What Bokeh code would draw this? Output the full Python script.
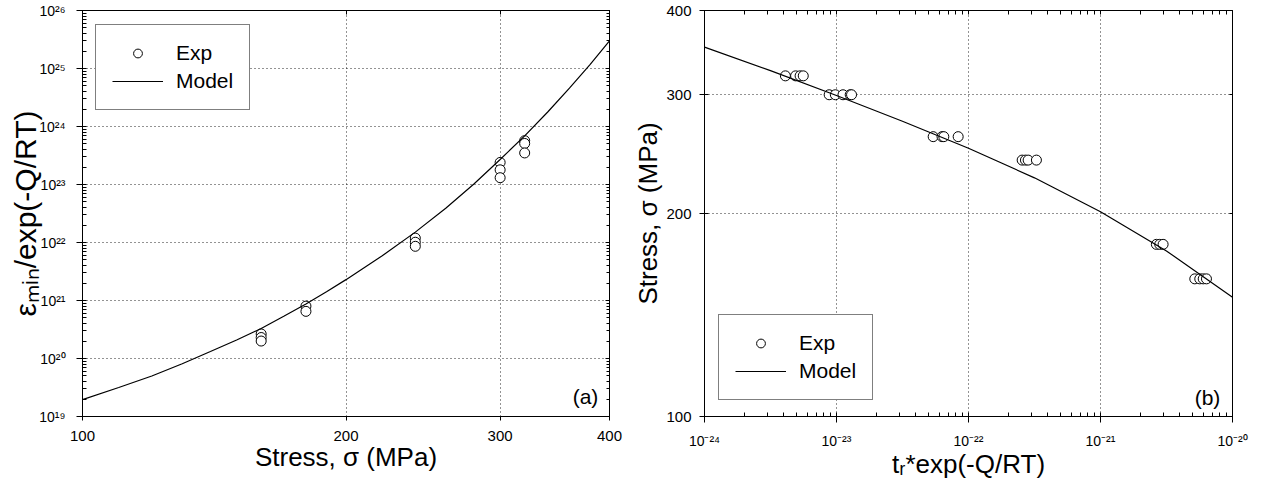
from bokeh.embed import file_html
from bokeh.layouts import row
from bokeh.models import (CustomJSTickFormatter, FixedTicker, Label, Legend,
                          LegendItem, LogAxis, PrintfTickFormatter, Range1d)
from bokeh.plotting import figure
from bokeh.resources import INLINE

FONT = "Liberation Sans"
INK = "black"

# ---- panel (a): minimum creep rate normalised by exp(-Q/RT) vs stress ----
exp_stress_a = [160, 160, 160, 180, 180, 240, 240, 240,
                300, 300, 300, 320, 320, 320]
exp_rate_a = [2.65e20, 2.3e20, 2.0e20, 8.0e20, 6.5e20, 1.19e22, 1.01e22, 8.6e21,
              2.4e23, 1.79e23, 1.31e23, 5.7e23, 5.1e23, 3.5e23]
model_stress_a = [100, 110, 120, 130, 140, 150, 160, 170, 180, 190, 200,
                  220, 240, 260, 280, 300, 320, 340, 360, 380, 400]
model_rate_a = [1.95e19, 3.16e19, 5.0e19, 8.1e19, 1.32e20, 2.09e20, 3.3e20,
                5.4e20, 8.7e20, 1.41e21, 2.29e21, 5.9e21, 1.51e22, 3.9e22,
                1.02e23, 2.7e23, 6.9e23, 1.78e24, 4.6e24, 1.17e25, 3.0e25]

# ---- panel (b): stress vs rupture time normalised by exp(-Q/RT) ----
exp_time_b = [4.1e-24, 4.9e-24, 5.3e-24, 5.6e-24,
              8.8e-24, 9.8e-24, 1.12e-23, 1.27e-23, 1.30e-23,
              5.4e-23, 6.3e-23, 6.5e-23, 8.35e-23,
              2.55e-22, 2.7e-22, 2.83e-22, 3.27e-22,
              2.65e-21, 2.81e-21, 2.98e-21,
              5.18e-21, 5.65e-21, 6.0e-21, 6.35e-21]
exp_stress_b = [320, 320, 320, 320,
                300, 300, 300, 300, 300,
                260, 260, 260, 260,
                240, 240, 240, 240,
                180, 180, 180,
                160, 160, 160, 160]
model_time_b = [1e-24, 3.16e-24, 1e-23, 3.16e-23, 1e-22, 3.16e-22,
                1e-21, 3.16e-21, 1e-20]
model_stress_b = [353, 325.7, 299.2, 274.1, 249.9, 225.9, 201.2, 176.0, 150.3]

# ---- ticks, tick label texts and axis titles ----
ticks_a_x = [100, 200, 300, 400]
decades_a_y = [1e19, 1e20, 1e21, 1e22, 1e23, 1e24, 1e25, 1e26]
exponents_a_y = ["19", "20", "21", "22", "23", "24", "25", "26"]
ticks_b_y = [100, 200, 300, 400]
decades_b_x = [1e-24, 1e-23, 1e-22, 1e-21, 1e-20]
exponents_b_x = ["-24", "-23", "-22", "-21", "-20"]

SUP = str.maketrans("0123456789-", "\u2070\u00b9\u00b2\u00b3\u2074\u2075\u2076\u2077\u2078\u2079\u207b")
SUB = str.maketrans("minr", "\u2098\u1d62\u2099\u1d63")

title_a_x = "Stress, \u03c3 (MPa)"
title_a_y = "\u03b5" + "min".translate(SUB) + "/exp(-Q/RT)"
title_b_x = "t" + "r".translate(SUB) + "*exp(-Q/RT)"
title_b_y = "Stress, \u03c3 (MPa)"


def power_labels(decades, exponents):
    return {d: "10" + e.translate(SUP) for d, e in zip(decades, exponents)}


def log_minors(decades):
    return [m * d for d in decades[:-1] for m in range(2, 10)]


def frame_axis(ax, ticks, minors=(), tick_in=0, tick_out=0, minor_in=0,
               labels=None, standoff=5, size="15px"):
    ax.ticker = FixedTicker(ticks=list(ticks), minor_ticks=list(minors))
    ax.major_tick_in = tick_in
    ax.major_tick_out = tick_out
    ax.minor_tick_in = minor_in
    ax.minor_tick_out = 0
    ax.axis_line_color = INK
    ax.major_tick_line_color = INK
    ax.minor_tick_line_color = INK
    ax.major_label_standoff = standoff
    if labels is None:
        ax.formatter = CustomJSTickFormatter(code="return ''")
        ax.major_label_text_font_size = "0px"
        ax.major_label_standoff = 0
    else:
        ax.formatter = PrintfTickFormatter(format="%d")
        if labels:
            ax.major_label_overrides = labels
        ax.major_label_text_font = FONT
        ax.major_label_text_font_size = size
        ax.major_label_text_color = INK


def axis_title(ax, text, size, standoff):
    ax.axis_label = text
    ax.axis_label_text_font = FONT
    ax.axis_label_text_font_size = size
    ax.axis_label_text_font_style = "normal"
    ax.axis_label_text_color = INK
    ax.axis_label_standoff = standoff


def style_grid(p, xticks, yticks):
    p.xgrid.ticker = FixedTicker(ticks=xticks)
    p.ygrid.ticker = FixedTicker(ticks=yticks)
    p.grid.grid_line_color = INK
    p.grid.grid_line_dash = "1 3"
    p.grid.grid_line_width = 1
    p.grid.grid_line_alpha = 0.85


def add_legend(p, r_exp, r_model, loc):
    legend = Legend(items=[LegendItem(label="Exp", renderers=[r_exp]),
                           LegendItem(label="Model", renderers=[r_model])],
                    location=loc, margin=0, padding=16, spacing=4,
                    glyph_width=51, glyph_height=22, label_height=22,
                    label_standoff=13, label_text_font=FONT,
                    label_text_font_size="21px", label_text_color=INK,
                    border_line_color=INK, border_line_width=1,
                    background_fill_color="white", background_fill_alpha=1.0)
    p.add_layout(legend)


def panel_tag(p, x, y, text, dx, dy):
    p.add_layout(Label(x=x, y=y, x_offset=dx, y_offset=dy, text=text,
                       text_align="center", text_baseline="middle",
                       text_font=FONT, text_font_size="21px", text_color=INK))


# ================= panel (a) =================
p1 = figure(width=630, height=481, x_axis_type="log", y_axis_type="log",
            x_range=Range1d(100, 400), y_range=Range1d(1e19, 1e26),
            output_backend="svg", toolbar_location=None,
            min_border_left=82, min_border_right=21,
            min_border_top=10, min_border_bottom=65,
            background_fill_color="white", border_fill_color="white")
p1.outline_line_color = INK

frame_axis(p1.below[0], ticks_a_x, tick_out=4, labels={}, standoff=10)
axis_title(p1.below[0], title_a_x, "26px", -2)
frame_axis(p1.left[0], decades_a_y, log_minors(decades_a_y),
           tick_in=4, tick_out=6, minor_in=4,
           labels=power_labels(decades_a_y, exponents_a_y), standoff=11,
           size="14px")
axis_title(p1.left[0], title_a_y, "30px", -6)
ax = LogAxis()
frame_axis(ax, decades_a_y, log_minors(decades_a_y), tick_in=4, minor_in=3)
p1.add_layout(ax, "right")
ax = LogAxis()
frame_axis(ax, ticks_a_x, tick_in=4)
p1.add_layout(ax, "above")
style_grid(p1, [200, 300], decades_a_y[1:-1])

r_exp_a = p1.scatter(exp_stress_a, exp_rate_a, marker="circle", size=10,
                     line_color=INK, line_width=1, fill_color="white")
r_model_a = p1.line(model_stress_a, model_rate_a, line_color=INK, line_width=1.2)
add_legend(p1, r_exp_a, r_model_a, (13, 306))
panel_tag(p1, 400, 1e19, "(a)", -24, 20)

# ================= panel (b) =================
p2 = figure(width=633, height=481, x_axis_type="log", y_axis_type="log",
            x_range=Range1d(1e-24, 1e-20), y_range=Range1d(100, 400),
            output_backend="svg", toolbar_location=None,
            min_border_left=73, min_border_right=31,
            min_border_top=10, min_border_bottom=65,
            background_fill_color="white", border_fill_color="white")
p2.outline_line_color = INK

frame_axis(p2.below[0], decades_b_x, log_minors(decades_b_x),
           tick_in=4, tick_out=6, minor_in=4,
           labels=power_labels(decades_b_x, exponents_b_x), standoff=10,
           size="14px")
axis_title(p2.below[0], title_b_x, "26px", -3)
frame_axis(p2.left[0], ticks_b_y, tick_in=4, tick_out=5, labels={},
           standoff=8)
axis_title(p2.left[0], title_b_y, "26px", 0)
ax = LogAxis()
frame_axis(ax, [200, 300], tick_in=3)
p2.add_layout(ax, "right")
ax = LogAxis()
frame_axis(ax, decades_b_x, log_minors(decades_b_x), tick_in=4, minor_in=4)
p2.add_layout(ax, "above")
style_grid(p2, decades_b_x[1:-1], [200, 300])

r_exp_b = p2.scatter(exp_time_b, exp_stress_b, marker="circle", size=10,
                     line_color=INK, line_width=1, fill_color="white")
r_model_b = p2.line(model_time_b, model_stress_b, line_color=INK, line_width=1.2)
add_legend(p2, r_exp_b, r_model_b, (14, 16))
panel_tag(p2, 1e-20, 100, "(b)", -25, 19)

layout = row(p1, p2)
open("out.html", "w").write(file_html(layout, INLINE))
